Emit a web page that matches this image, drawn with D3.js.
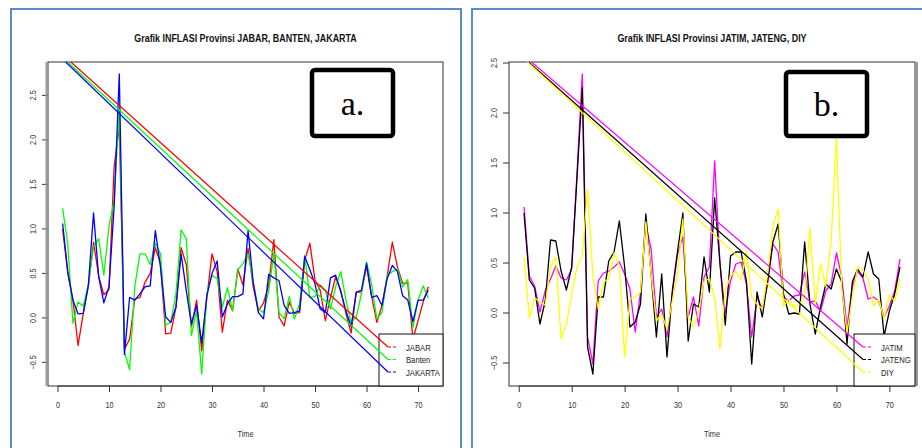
<!DOCTYPE html>
<html>
<head>
<meta charset="utf-8">
<script src="https://cdn.jsdelivr.net/npm/d3@7"></script>
<style>
  body { margin: 0; background: #fff; }
  svg text { font-family: "Liberation Sans", Arial, sans-serif; }
</style>
</head>
<body>
<div class="chart"></div>
<script>
(function() {

// time index 1..72 (monthly)
var time = d3.range(1, 73);

var jabar = [1.0, 0.5, 0.2, -0.31, 0.05, 0.36, 0.85, 0.47, 0.26, 0.32, 1.7, 2.15,
  -0.35, -0.24, 0.21, 0.23, 0.4, 0.5, 0.79, 0.61, -0.18, -0.17, 0.12, 0.79,
  0.6, -0.1, 0.2, -0.37, 0.23, 0.72, 0.52, -0.16, 0.2, 0.08, 0.55, 0.37,
  0.78, 0.35, 0.08, 0.17, 0.36, 0.88, 0.01, -0.09, 0.18, 0.05, 0.06, 0.65,
  0.84, 0.42, 0.31, -0.03, 0.23, 0.46, 0.31, 0.05, -0.17, 0.29, 0.29, 0.58,
  0.24, -0.05, 0.14, 0.47, 0.85, 0.57, 0.39, 0.39, -0.24, -0.03, 0.18, 0.35];

var banten = [1.23, 0.83, -0.06, 0.18, 0.13, 0.38, 0.8, 0.89, 0.48, 1.03, 1.32, 2.35,
  -0.38, -0.58, 0.35, 0.72, 0.72, 0.6, 0.84, 0.72, -0.08, -0.05, 0.27, 0.99,
  0.89, -0.2, 0.08, -0.63, 0.27, 0.48, 0.44, 0.12, 0.34, 0.08, 0.54, 0.61,
  0.72, 0.4, 0.1, 0.06, 0.3, 0.72, 0.06, -0.01, 0.24, -0.01, 0.16, 0.7,
  0.23, 0.24, 0.37, 0.31, 0.1, 0.35, 0.52, 0.2, -0.05, 0.01, 0.27, 0.63,
  0.37, -0.01, 0.06, 0.48, 0.52, 0.55, 0.35, 0.43, -0.11, 0.2, 0.36, 0.22];

var jakarta = [1.06, 0.52, 0.2, 0.045, 0.05, 0.37, 1.18, 0.46, 0.17, 0.35, 1.25, 2.74,
  -0.41, 0.23, 0.2, 0.27, 0.35, 0.36, 0.98, 0.57, 0.01, -0.05, 0.12, 0.72,
  0.31, -0.07, 0.14, -0.28, 0.25, 0.5, 0.64, 0.01, 0.16, 0.24, 0.24, 0.27,
  0.98, 0.4, 0.06, -0.01, 0.49, 0.45, 0.42, 0.14, 0.05, 0.06, 0.08, 0.69,
  0.54, 0.38, 0.1, 0.06, 0.45, 0.48, 0.29, 0.08, -0.1, 0.29, 0.31, 0.61,
  0.23, 0.25, 0.14, 0.44, 0.59, 0.52, 0.25, 0.2, -0.04, 0.2, 0.2, 0.31];

var jatim = [1.06, 0.37, 0.27, 0.01, 0.22, 0.34, 0.47, 0.35, 0.33, 0.44, 1.4, 2.39,
  -0.24, -0.51, 0.32, 0.4, 0.42, 0.46, 0.51, 0.39, 0.24, -0.19, 0.21, 0.89,
  0.64, -0.04, 0.04, -0.24, 0.19, 0.59, 0.76, -0.04, 0.16, -0.13, 0.36, 0.46,
  1.52, 0.5, 0.0, 0.32, 0.49, 0.51, 0.29, -0.24, 0.16, 0.04, 0.29, 0.69,
  0.61, 0.16, 0.12, 0.17, 0.18, 0.41, 0.11, 0.12, 0.02, 0.22, 0.29, 0.6,
  0.36, -0.14, 0.26, 0.42, 0.35, 0.14, 0.16, 0.12, -0.04, 0.07, 0.22, 0.54];

var jateng = [1.0, 0.33, 0.25, -0.11, 0.12, 0.73, 0.72, 0.42, 0.23, 0.46, 1.35, 2.25,
  -0.34, -0.61, 0.16, 0.16, 0.52, 0.61, 0.92, 0.46, -0.14, -0.09, 0.09, 0.99,
  0.39, -0.24, 0.39, -0.44, 0.22, 0.62, 1.0, -0.28, 0.09, 0.06, 0.56, 0.21,
  1.15, 0.5, -0.12, 0.57, 0.61, 0.61, 0.32, -0.51, 0.21, -0.04, 0.32, 0.71,
  0.89, 0.19, -0.01, 0.0, -0.01, 0.71, 0.09, -0.21, 0.06, 0.29, 0.24, 0.44,
  0.31, -0.31, 0.31, 0.44, 0.36, 0.61, 0.39, 0.34, -0.23, 0.02, 0.19, 0.46];

var diy = [0.56, -0.05, 0.15, 0.11, 0.08, 0.46, 0.56, -0.26, -0.11, 0.19, 0.46, 0.57,
  1.24, 0.37, 0.04, 0.31, 0.34, 0.6, 0.47, -0.44, 0.14, 0.16, 0.21, 0.91,
  0.39, -0.08, -0.01, -0.16, 0.12, 0.39, 0.94, -0.04, -0.14, 0.02, 0.32, 0.34,
  0.15, -0.36, 0.22, 0.37, 0.42, 0.33, 0.62, 0.16, 0.09, 0.04, 0.39, 0.87,
  1.04, 0.07, 0.14, 0.06, 0.09, 0.16, 0.85, 0.09, 0.49, 0.27, 0.72, 1.75,
  0.26, -0.2, 0.16, 0.46, 0.43, 0.34, 0.07, 0.14, -0.06, 0.18, 0.12, 0.34];

var xTicks = [0, 10, 20, 30, 40, 50, 60, 70];
var yTicks = [-0.5, 0.0, 0.5, 1.0, 1.5, 2.0, 2.5];

var namesA = ['JABAR', 'Banten', 'JAKARTA'];
var namesB = ['JATIM', 'JATENG', 'DIY'];
var colorsA = ['#ff0000', '#00ff00', '#0000ff'];
var colorsB = ['#ff00ff', '#000000', '#ffff00'];
// x position (time) where the stray legend lines leave the top of the plot
var strayA = [2.6, 2.0, 1.6];
var strayB = [2.4, 1.85, 1.65];

var narrow = 'scale(0.81,1)';

var svg = d3.select('.chart')
  .append('svg')
  .attr('width', 922)
  .attr('height', 448);

svg.append('rect')
  .attr('width', 922)
  .attr('height', 448)
  .attr('fill', '#fff');

var fmt = d3.format('.1f');

// condensed text, R's Helvetica rendering looks narrow
function label(g, x, y, str, size, anchor) {
  return g.append('text')
    .attr('transform', 'translate(' + x + ',' + y + ') ' + narrow)
    .attr('text-anchor', anchor || 'middle')
    .attr('font-size', size)
    .attr('fill', '#222')
    .text(str);
}

function panel(opt) {
  var g = svg.append('g');

  // document frame around the figure
  g.append('rect')
    .attr('x', opt.frame[0])
    .attr('y', opt.frame[1])
    .attr('width', opt.frame[2])
    .attr('height', 480)
    .attr('fill', 'none')
    .attr('stroke', '#5b8bc9')
    .attr('stroke-width', 2);

  var all = [].concat.apply([], opt.series);
  var ext = d3.extent(all);
  var pad = (ext[1] - ext[0]) * 0.04;
  var xpad = (time[time.length - 1] - time[0]) * 0.04;

  var x = d3.scaleLinear()
    .domain([time[0] - xpad, time[time.length - 1] + xpad])
    .range([opt.left, opt.right]);
  var y = d3.scaleLinear()
    .domain([ext[0] - pad, ext[1] + pad])
    .range([opt.bottom, opt.top]);

  // title
  label(g, (opt.left + opt.right) / 2, 42, opt.title, 11)
    .attr('font-weight', 'bold')
    .attr('fill', '#111');

  // x axis
  var xa = g.append('g')
    .attr('transform', 'translate(0,' + opt.bottom + ')')
    .call(d3.axisBottom(x).tickValues(xTicks).tickSize(6).tickPadding(10).tickFormat(d3.format('d')));
  xa.select('.domain').attr('stroke', '#333')
    .attr('d', 'M' + x(xTicks[0]) + ',0H' + x(xTicks[xTicks.length - 1]));
  xa.selectAll('line').attr('stroke', '#333');
  xa.selectAll('text')
    .attr('font-size', 9)
    .attr('fill', '#333')
    .attr('font-family', '"Liberation Sans", Arial, sans-serif')
    .attr('transform', narrow);

  // y axis with rotated labels
  var yt = yTicks.filter(function(d) { return d >= y.domain()[0] && d <= y.domain()[1] + 0.01; });
  var ya = g.append('g')
    .attr('transform', 'translate(' + opt.left + ',0)');
  ya.selectAll('line').data(yt).enter()
    .append('line')
    .attr('x1', -6).attr('x2', 0)
    .attr('y1', function(d) { return y(d); })
    .attr('y2', function(d) { return y(d); })
    .attr('stroke', '#333');
  ya.selectAll('text').data(yt).enter()
    .append('text')
    .attr('transform', function(d) { return 'translate(-12,' + y(d) + ') rotate(-90) ' + narrow; })
    .attr('text-anchor', 'middle')
    .attr('font-size', 9)
    .attr('fill', '#333')
    .text(function(d) { return fmt(d); });

  label(g, (opt.left + opt.right) / 2, 437, 'Time', 9).attr('fill', '#333');

  // series
  var line = d3.line()
    .x(function(d, i) { return x(time[i]); })
    .y(function(d) { return y(d); });

  g.selectAll('path.series').data(opt.series).enter()
    .append('path')
    .attr('class', 'series')
    .attr('d', line)
    .attr('fill', 'none')
    .attr('stroke', function(d, i) { return opt.colors[i]; })
    .attr('stroke-width', 1.3)
    .attr('stroke-linejoin', 'round');

  // plot box
  g.append('rect')
    .attr('x', opt.left)
    .attr('y', opt.top)
    .attr('width', opt.right - opt.left)
    .attr('height', opt.bottom - opt.top)
    .attr('fill', 'none')
    .attr('stroke', '#333')
    .attr('stroke-width', 1);
  g.append('line')
    .attr('x1', opt.edge).attr('x2', opt.edge)
    .attr('y1', opt.top).attr('y2', opt.bottom)
    .attr('stroke', '#999')
    .attr('stroke-width', 2);

  // legend in bottom right corner
  var lw = opt.legendWidth, lh = 52;
  var lx = opt.right - lw, ly = opt.bottom - lh;
  g.append('rect')
    .attr('x', lx).attr('y', ly)
    .attr('width', lw).attr('height', lh)
    .attr('fill', '#fff')
    .attr('stroke', '#111')
    .attr('stroke-width', 1);

  var rows = [13, 25.5, 38];
  opt.names.forEach(function(name, i) {
    var ry = ly + rows[i];
    // stray line drawn from the top of the plot to the legend key
    g.append('line')
      .attr('x1', x(opt.stray[i])).attr('y1', opt.top)
      .attr('x2', lx + 9).attr('y2', ry)
      .attr('stroke', opt.colors[i])
      .attr('stroke-width', 1.2);
    g.append('line')
      .attr('x1', lx + 9).attr('x2', lx + 18)
      .attr('y1', ry).attr('y2', ry)
      .attr('stroke', opt.colors[i])
      .attr('stroke-width', 1.2)
      .attr('stroke-dasharray', '3,2');
    label(g, lx + 27, ry + 3.5, name, 9.5, 'start');
  });

  // panel letter box
  g.append('rect')
    .attr('x', opt.box[0]).attr('y', opt.box[1])
    .attr('width', opt.box[2]).attr('height', opt.box[3])
    .attr('rx', 3)
    .attr('fill', '#fff')
    .attr('stroke', '#000')
    .attr('stroke-width', 4.5);
  g.append('text')
    .attr('x', opt.box[0] + opt.box[2] / 2)
    .attr('y', opt.box[1] + opt.box[3] / 2 + 12)
    .attr('text-anchor', 'middle')
    .attr('font-size', 34)
    .style('font-family', '"Liberation Serif", "Times New Roman", serif')
    .attr('fill', '#000')
    .text(opt.letter);
}

panel({
  frame: [11, 9, 450],
  left: 48, right: 443, top: 62, bottom: 386, edge: 46.5,
  title: 'Grafik INFLASI Provinsi JABAR, BANTEN, JAKARTA',
  series: [jabar, banten, jakarta],
  names: namesA, colors: colorsA, stray: strayA,
  legendWidth: 64,
  box: [312, 70, 81, 66], letter: 'a.'
});

panel({
  frame: [472, 9, 470],
  left: 509, right: 915, top: 62, bottom: 386, edge: 917,
  title: 'Grafik INFLASI Provinsi JATIM, JATENG, DIY',
  series: [jatim, jateng, diy],
  names: namesB, colors: colorsB, stray: strayB,
  legendWidth: 61,
  box: [786, 72, 81, 64], letter: 'b.'
});

})();
</script>
</body>
</html>
